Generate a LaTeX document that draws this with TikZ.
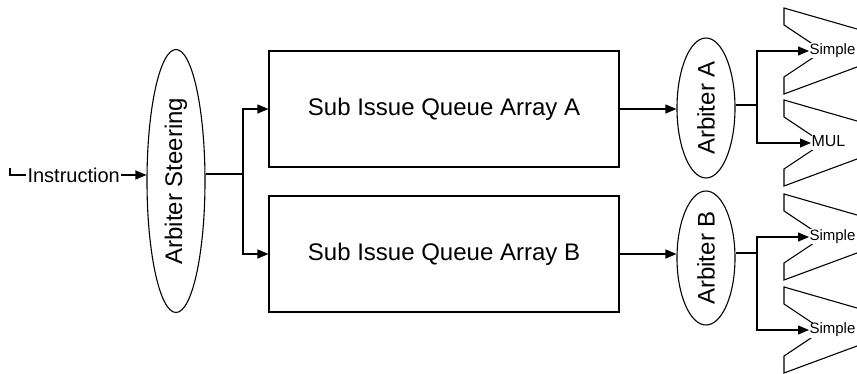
\documentclass[tikz,border=0pt]{standalone}
\usepackage{fontspec}
\usepackage{graphicx}
\setmainfont{Liberation Sans}
\usetikzlibrary{shapes.geometric,arrows.meta}
\begin{document}
\begin{tikzpicture}[x=1pt,y=-1pt,
  line width=1.1pt,
  ell/.style={draw, ellipse, inner sep=0pt, font=\fontsize{24}{28}\selectfont},
  box/.style={draw, rectangle, minimum width=350pt, minimum height=116pt, font=\fontsize{24}{28}\selectfont},
  arr/.style={-{Triangle[length=11pt,width=9pt]}},
  lbl/.style={fill=white, inner sep=0pt, text height=11pt, text depth=4pt, font=\fontsize{15}{18}\selectfont},
  alu/.style={draw, line join=miter}
]
\useasboundingbox (0,0) rectangle (857,374);

% ALU shapes
\foreach \c in {51,143,237,330}{
  \draw[alu] (857,{\c-22}) -- (784,{\c-43}) -- (784,{\c-26}) -- (823,\c) -- (784,{\c+26}) -- (784,{\c+43}) -- (857,{\c+16});
}

% main nodes
\node[ell, minimum width=58pt, minimum height=263pt] (steer) at (176,181) {\rotatebox{90}{Arbiter Steering}};
\node[box] (boxA) at (444,109) {Sub Issue Queue Array A};
\node[box] (boxB) at (444,254) {Sub Issue Queue Array B};
\node[ell, minimum width=58pt, minimum height=140pt] (arbA) at (706,108) {\rotatebox{90}{Arbiter A}};
\node[ell, minimum width=58pt, minimum height=134pt] (arbB) at (706,258) {\rotatebox{90}{Arbiter B}};

% labels of the units
\node[lbl, anchor=west] (s1) at (809,51) {Simple};
\node[lbl, anchor=west, font=\fontsize{16}{18}\selectfont] (m1) at (811,143) {MUL};
\node[lbl, anchor=west] (s2) at (809,237) {Simple};
\node[lbl, anchor=west] (s3) at (809,330) {Simple};

% instruction input
\coordinate (st) at (10,168);
\node[anchor=west, inner sep=1pt, font=\fontsize{20}{24}\selectfont] (instr) at (26,175) {Instruction};
\draw (st) |- (instr.west);
\draw[arr] (instr.east) -- (instr.east -| steer.west);

% steering to queues
\coordinate (jS) at (243,174);
\draw (jS -| steer.east) -- (jS);
\draw[arr] (jS) |- (boxA.west);
\draw[arr] (jS) |- (boxB.west);

% queues to arbiters
\draw[arr] (boxA.east) -- (boxA.east -| arbA.west);
\draw[arr] (boxB.east) -- (boxB.east -| arbB.west);

% arbiters to units
\coordinate (jA) at (757,105);
\draw (jA -| arbA.east) -- (jA);
\draw[arr] (jA) |- (s1.west);
\draw[arr] (jA) |- (m1.west);

\coordinate (jB) at (757,253);
\draw (jB -| arbB.east) -- (jB);
\draw[arr] (jB) |- (s2.west);
\draw[arr] (jB) |- (s3.west);
\end{tikzpicture}
\end{document}
